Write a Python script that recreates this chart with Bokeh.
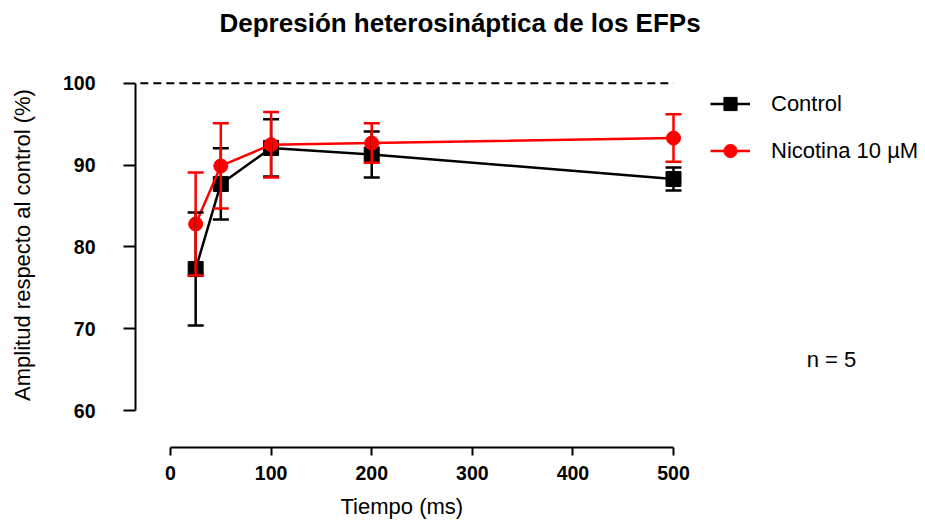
from bokeh.plotting import figure
from bokeh.models import (ColumnDataSource, Whisker, TeeHead, Legend, LegendItem,
                          FixedTicker, Range1d, Label, Title)
from bokeh.embed import file_html
from bokeh.resources import INLINE

# Paired-pulse interval (ms) and amplitude relative to control (%), mean ± SEM
tiempo_ms = [25, 50, 100, 200, 500]
control_mean = [77.3, 87.7, 92.1, 91.3, 88.3]
control_sem = [6.9, 4.35, 3.5, 2.8, 1.4]
nicotina_mean = [82.8, 89.9, 92.5, 92.7, 93.3]
nicotina_sem = [6.3, 5.2, 4.0, 2.4, 2.9]

x_ticks = [0, 100, 200, 300, 400, 500]
y_ticks = [60, 70, 80, 90, 100]

reference_level = 100
reference_x = [-30, 500]

FONT = "Liberation Sans"
RED = "#ff0000"
BLACK = "#000000"


def make_source(means, sems):
    return ColumnDataSource(dict(
        x=tiempo_ms,
        y=means,
        upper=[m + s for m, s in zip(means, sems)],
        lower=[m - s for m, s in zip(means, sems)],
    ))


p = figure(width=925, height=527, output_backend="svg", toolbar_location=None,
           x_range=Range1d(-34.8, 750.5), y_range=Range1d(55.5, 104.98),
           min_border_left=135, min_border_right=0,
           min_border_top=41, min_border_bottom=79)

p.outline_line_color = None
p.xgrid.visible = False
p.ygrid.visible = False
p.background_fill_color = "white"

p.add_layout(Title(text="Depresión heterosináptica de los EFPs", align="left",
                   offset=84, standoff=10, text_font=FONT, text_font_size="26px",
                   text_font_style="bold", text_color=BLACK), "above")

for ax in (p.xaxis[0], p.yaxis[0]):
    ax.axis_line_width = 2
    ax.axis_line_color = BLACK
    ax.major_tick_line_width = 2
    ax.major_tick_line_color = BLACK
    ax.major_tick_in = 0
    ax.minor_tick_line_color = None
    ax.major_label_text_font = FONT
    ax.major_label_text_font_style = "bold"
    ax.major_label_text_font_size = "19.5px"
    ax.major_label_text_color = BLACK
    ax.axis_label_text_font = FONT
    ax.axis_label_text_font_size = "22px"
    ax.axis_label_text_font_style = "normal"
    ax.axis_label_text_color = BLACK

p.xaxis.ticker = FixedTicker(ticks=x_ticks)
p.xaxis.bounds = (0, 500)
p.xaxis.major_tick_out = 8
p.xaxis.major_label_standoff = 10

p.yaxis.ticker = FixedTicker(ticks=y_ticks)
p.yaxis.bounds = (60, 100)
p.yaxis.major_tick_out = 12
p.yaxis.major_label_standoff = 28
p.yaxis.axis_label = "Amplitud respecto al control (%)"
p.yaxis.axis_label_standoff = 25

# x-axis caption, centred under the time axis rather than the whole frame
p.add_layout(Title(text="Tiempo (ms)", align="left", offset=205, standoff=18,
                   text_font=FONT, text_font_size="22px",
                   text_font_style="normal", text_color=BLACK), "below")

# dashed 100 % reference
p.line(x=reference_x, y=[reference_level, reference_level],
       line_color=BLACK, line_width=2, line_dash="8 5")


def draw_series(src, color, marker, size):
    whisk = Whisker(source=src, base="x", upper="upper", lower="lower",
                    line_color=color, line_width=2.5, level="glyph",
                    upper_head=TeeHead(size=16, line_color=color, line_width=2.5),
                    lower_head=TeeHead(size=16, line_color=color, line_width=2.5))
    p.add_layout(whisk)
    ln = p.line("x", "y", source=src, line_color=color, line_width=2.5)
    pts = p.scatter("x", "y", source=src, marker=marker, size=size,
                    fill_color=color, line_color=color)
    return ln, pts


ctrl_src = make_source(control_mean, control_sem)
nico_src = make_source(nicotina_mean, nicotina_sem)

c_line, c_pts = draw_series(ctrl_src, BLACK, "square", 15)
n_line, n_pts = draw_series(nico_src, RED, "circle", 14)

legend = Legend(items=[LegendItem(label="Control", renderers=[c_line, c_pts]),
                       LegendItem(label="Nicotina 10 µM", renderers=[n_line, n_pts])],
                location=(575, 280), glyph_width=40, glyph_height=33,
                label_height=33, spacing=14, padding=0, margin=0,
                label_standoff=21, border_line_color=None,
                background_fill_alpha=0,
                label_text_font=FONT, label_text_font_size="22px",
                label_text_color=BLACK)
p.add_layout(legend)

p.add_layout(Label(x=657, y=66.3, text="n = 5", text_align="center",
                   text_baseline="middle", text_font=FONT,
                   text_font_size="22px", text_color=BLACK))

open("out.html", "w").write(file_html(p, INLINE))
